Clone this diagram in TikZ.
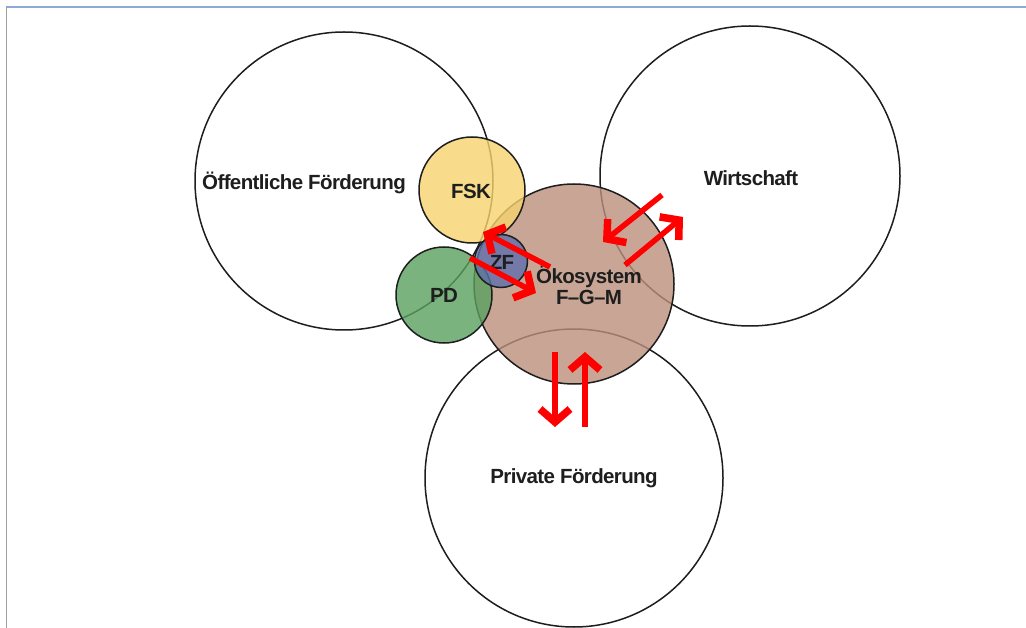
\documentclass[tikz,border=0pt]{standalone}
\usepackage{fontspec}
\setmainfont{Liberation Sans}
\newfontfamily\lblfont{Liberation Sans}[LetterSpace=-3]
\usetikzlibrary{arrows.meta}
\definecolor{ink}{HTML}{1E1E1E}
\definecolor{fskyellow}{HTML}{F7D46E}
\definecolor{okobrown}{HTML}{BC8F7C}
\definecolor{pdgreen}{HTML}{5AA160}
\definecolor{zfblue}{HTML}{5F6FAC}
\definecolor{framegray}{HTML}{A0A0A0}
\definecolor{frameblue}{HTML}{8FA8D8}
\tikzset{
  bigcircle/.style={circle, draw=ink, line width=1.5pt, inner sep=0pt},
  smallcircle/.style={circle, draw=ink, line width=1.5pt, inner sep=0pt, fill opacity=0.8},
  lbl/.style={text=ink, font=\lblfont\bfseries\fontsize{20.5}{23}\selectfont, inner sep=0pt},
  % thick red arrow ending in an open chevron
  flow/.style={draw=red, line width=5.5pt,
    -{Straight Barb[length=13pt, width=30pt, line width=7.5pt, sharp]}}
}
\begin{document}
\begin{tikzpicture}[x=1pt, y=-1pt]
  \useasboundingbox (0,0) rectangle (1026,628);
  \fill[white] (0,0) rectangle (1026,628);
  % frame lines
  \draw[frameblue, line width=1.5pt] (6,7) -- (1026,7);
  \draw[framegray, line width=1pt] (6,7) -- (6,628);

  % large outer circles
  \node[bigcircle, minimum size=298pt] (oef) at (344,181) {};
  \node[bigcircle, minimum size=300pt] (wir) at (750,176) {};
  \node[bigcircle, minimum size=298pt] (pri) at (574,478) {};

  % coloured circles
  \node[smallcircle, fill=okobrown, minimum size=200pt] (oko) at (574,284) {};
  \node[smallcircle, fill=fskyellow, minimum size=106pt] (fsk) at (472,190) {};
  \node[smallcircle, fill=pdgreen, minimum size=96pt] (pd) at (444,295) {};
  \node[smallcircle, fill=zfblue, minimum size=53pt] (zf) at (501,261) {};

  % labels
  \node[lbl] (toef) at (304,183) {Öffentliche Förderung};
  \node[lbl] (twir) at (751,178) {Wirtschaft};
  \node[lbl] (tpri) at (574,478) {Private Förderung};
  \node[lbl] (tfsk) at (471,191) {FSK};
  \node[lbl] (tpd) at (444,295) {PD};
  \node[lbl] (tzf) at (502,262) {ZF};
  \node[lbl, align=center] (toko) at (589,285) {Ökosystem\\[-2pt]F–G–M};

  % flow arrow end points
  \coordinate (a1s) at (550,267);  \coordinate (a1e) at (483,232);
  \coordinate (a2s) at (470,258);  \coordinate (a2e) at (536,293);
  \coordinate (a3s) at (662,195);  \coordinate (a3e) at (603,242);
  \coordinate (a4s) at (625,265);  \coordinate (a4e) at (683,217);
  \coordinate (a5s) at (555,352);  \coordinate (a5e) at (555,427);
  \coordinate (a6s) at (585,427);  \coordinate (a6e) at (585,352);

  \draw[flow] (a1s) -- (a1e);
  \draw[flow] (a2s) -- (a2e);
  \draw[flow] (a3s) -- (a3e);
  \draw[flow] (a4s) -- (a4e);
  \draw[flow] (a5s) -- (a5e);
  \draw[flow] (a6s) -- (a6e);
\end{tikzpicture}
\end{document}
